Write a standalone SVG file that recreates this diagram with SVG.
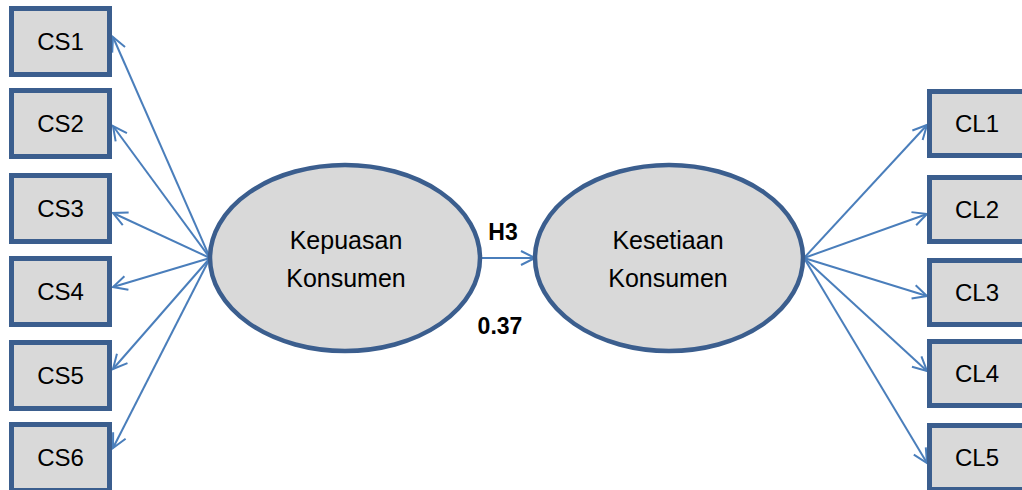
<svg xmlns="http://www.w3.org/2000/svg" width="1022" height="490" viewBox="0 0 1022 490">
<style>
.box{fill:#d9d9d9;stroke:#3b5e8e;stroke-width:5}
.ell{fill:#d9d9d9;stroke:#3b5e8e;stroke-width:4.5}
.lbl{font-family:"Liberation Sans",Arial,sans-serif;font-size:24px;fill:#000;text-anchor:middle}
.big{font-family:"Liberation Sans",Arial,sans-serif;font-size:25px;fill:#000;text-anchor:middle}
.bold{font-family:"Liberation Sans",Arial,sans-serif;font-size:23px;font-weight:bold;fill:#000;text-anchor:middle}
.con{stroke:#4a7ebb;stroke-width:2;fill:none;marker-end:url(#ah)}
</style>
<defs>
<marker id="ah" markerUnits="userSpaceOnUse" markerWidth="20" markerHeight="20" viewBox="0 0 20 20" refX="15" refY="10" orient="auto">
<path d="M1,3 L15,10 L1,17" fill="none" stroke="#4a7ebb" stroke-width="2"/>
</marker>
</defs>
<g id="connectors">
<line class="con" x1="210" y1="258" x2="113" y2="37"/>
<line class="con" x1="210" y1="258" x2="113" y2="126"/>
<line class="con" x1="210" y1="258" x2="113" y2="213"/>
<line class="con" x1="210" y1="258" x2="113" y2="287"/>
<line class="con" x1="210" y1="258" x2="113" y2="369"/>
<line class="con" x1="210" y1="258" x2="113" y2="448"/>
<line class="con" x1="480" y1="258" x2="535" y2="258"/>
<line class="con" x1="804" y1="258" x2="927" y2="125"/>
<line class="con" x1="804" y1="258" x2="927" y2="214"/>
<line class="con" x1="804" y1="258" x2="927" y2="296"/>
<line class="con" x1="804" y1="258" x2="927" y2="371"/>
<line class="con" x1="804" y1="258" x2="927" y2="463"/>
</g>
<g id="CS1"><rect class="box" x="11.5" y="8.5" width="98" height="66"/><text class="lbl" x="60.5" y="50">CS1</text></g>
<g id="CS2"><rect class="box" x="11.5" y="90.5" width="98" height="66"/><text class="lbl" x="60.5" y="132">CS2</text></g>
<g id="CS3"><rect class="box" x="11.5" y="175.5" width="98" height="66"/><text class="lbl" x="60.5" y="217">CS3</text></g>
<g id="CS4"><rect class="box" x="11.5" y="258.5" width="98" height="66"/><text class="lbl" x="60.5" y="300">CS4</text></g>
<g id="CS5"><rect class="box" x="11.5" y="342.5" width="98" height="66"/><text class="lbl" x="60.5" y="384">CS5</text></g>
<g id="CS6"><rect class="box" x="11.5" y="424.5" width="98" height="66"/><text class="lbl" x="60.5" y="466">CS6</text></g>
<g id="CL1"><rect class="box" x="929.5" y="91.5" width="100" height="64"/><text class="lbl" x="977" y="132">CL1</text></g>
<g id="CL2"><rect class="box" x="929.5" y="177.5" width="100" height="64"/><text class="lbl" x="977" y="218">CL2</text></g>
<g id="CL3"><rect class="box" x="929.5" y="260.5" width="100" height="64"/><text class="lbl" x="977" y="301">CL3</text></g>
<g id="CL4"><rect class="box" x="929.5" y="341.5" width="100" height="64"/><text class="lbl" x="977" y="382">CL4</text></g>
<g id="CL5"><rect class="box" x="929.5" y="425.5" width="100" height="64"/><text class="lbl" x="977" y="466">CL5</text></g>
<g id="KepuasanKonsumen"><ellipse class="ell" cx="345" cy="258" rx="135" ry="93"/><text class="big" x="346" y="249">Kepuasan</text><text class="big" x="346" y="287">Konsumen</text></g>
<g id="KesetiaanKonsumen"><ellipse class="ell" cx="669" cy="258" rx="134" ry="93"/><text class="big" x="668" y="249">Kesetiaan</text><text class="big" x="668" y="287">Konsumen</text></g>
<text class="bold" x="503" y="240">H3</text>
<text class="bold" x="500" y="334">0.37</text>
</svg>
